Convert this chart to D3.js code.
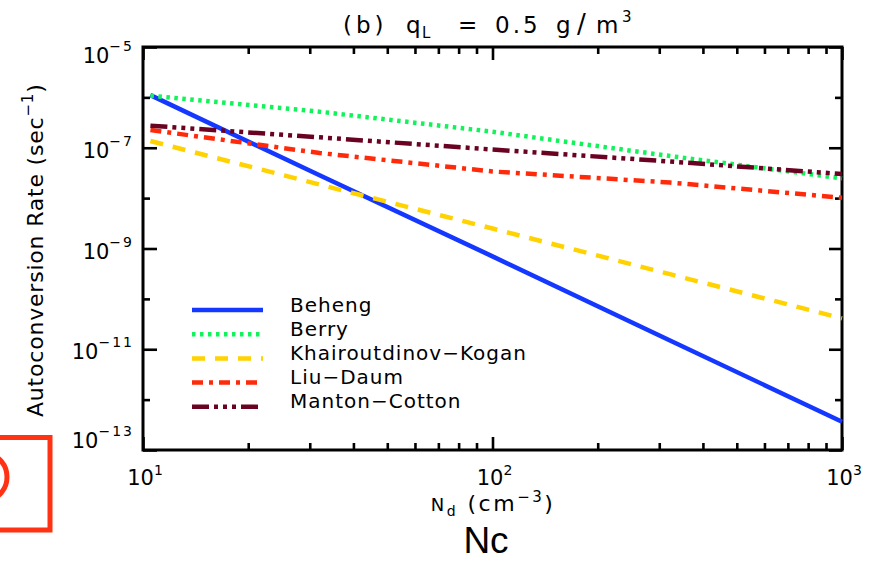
<!DOCTYPE html>
<html><head><meta charset="utf-8">
<script src="https://cdn.jsdelivr.net/npm/d3@7"></script>
<style>body{margin:0;background:#fff} svg{display:block}</style>
</head><body>
<script>
// ---- data ----
const nd = [10.5, 32, 100, 322, 1000];
const beheng = [1.11e-6, 2.84e-8, 6.97e-10, 1.49e-11, 3.65e-13];
const berry = [1.08e-6, 5.20e-7, 2.08e-7, 6.85e-8, 2.47e-8];
const khairoutdinovKogan = [1.36e-7, 1.86e-8, 2.49e-9, 3.09e-10, 4.11e-11];
const liuDaum = [2.25e-7, 7.87e-8, 3.38e-8, 2.04e-8, 1.02e-8];
const mantonCotton = [2.74e-7, 1.61e-7, 9.23e-8, 5.33e-8, 3.01e-8];
const seriesNames = ["Beheng", "Berry", "Khairoutdinov\u2212Kogan", "Liu\u2212Daum", "Manton\u2212Cotton"];
const seriesValues = [beheng, berry, khairoutdinovKogan, liuDaum, mantonCotton];
const xMajorTicks = [10, 100, 1000];
const xTickExponents = ["1", "2", "3"];
const yMajorTicks = [1e-5, 1e-7, 1e-9, 1e-11, 1e-13];
const yTickExponents = ["\u22125", "\u22127", "\u22129", "\u221211", "\u221213"];
const yMinorTicks = [1e-6, 1e-8, 1e-10, 1e-12];

// ---- styles ----
const colors = ["#1438ff", "#12f25a", "#ffd200", "#ff2a0a", "#6a0322"];
const dashes = ["none", "3.5,4.5", "13,10", "11,6,4,6", "17,5,4,5,4,5,4,5"];
const FONT = "'DejaVu Sans', sans-serif";

const W = 880, H = 561;
const L = 143, R = 842, T = 47, B = 450;

const svg = d3.select("body").append("svg").attr("width", W).attr("height", H)
  .style("font-family", FONT);

const x = d3.scaleLog().domain([10, 1000]).range([L, R]);
const y = d3.scaleLog().domain([1e-13, 1e-5]).range([B, T]);

const xMinor = d3.range(2, 10).map(d => d * 10).concat(d3.range(2, 10).map(d => d * 100));

function styleAxis(g) {
  g.select(".domain").remove();
  g.selectAll(".tick line").attr("stroke", "#000").attr("stroke-width", 2.6);
  g.selectAll(".tick text").remove();
}
// x ticks bottom/top
svg.append("g").attr("transform", `translate(0,${B})`)
  .call(d3.axisBottom(x).tickValues(xMajorTicks).tickSize(-13).tickFormat("")).call(styleAxis);
svg.append("g").attr("transform", `translate(0,${B})`)
  .call(d3.axisBottom(x).tickValues(xMinor).tickSize(-7).tickFormat("")).call(styleAxis);
svg.append("g").attr("transform", `translate(0,${T})`)
  .call(d3.axisTop(x).tickValues(xMajorTicks).tickSize(-13).tickFormat("")).call(styleAxis);
svg.append("g").attr("transform", `translate(0,${T})`)
  .call(d3.axisTop(x).tickValues(xMinor).tickSize(-7).tickFormat("")).call(styleAxis);
// y ticks left/right
svg.append("g").attr("transform", `translate(${L},0)`)
  .call(d3.axisLeft(y).tickValues(yMajorTicks).tickSize(-14).tickFormat("")).call(styleAxis);
svg.append("g").attr("transform", `translate(${L},0)`)
  .call(d3.axisLeft(y).tickValues(yMinorTicks).tickSize(-7).tickFormat("")).call(styleAxis);
svg.append("g").attr("transform", `translate(${R},0)`)
  .call(d3.axisRight(y).tickValues(yMajorTicks).tickSize(-13).tickFormat("")).call(styleAxis);
svg.append("g").attr("transform", `translate(${R},0)`)
  .call(d3.axisRight(y).tickValues(yMinorTicks).tickSize(-7).tickFormat("")).call(styleAxis);

// frame
svg.append("rect").attr("x", L).attr("y", T).attr("width", R - L).attr("height", B - T)
  .attr("fill", "none").attr("stroke", "#000").attr("stroke-width", 3);

// x tick labels
xMajorTicks.forEach((v, i) => {
  const t = svg.append("text").attr("x", x(v) + 2).attr("y", 485)
    .attr("text-anchor", "middle").attr("font-size", 21).attr("fill", "#000");
  t.append("tspan").text("10");
  t.append("tspan").attr("dy", -10).attr("font-size", 14).text(xTickExponents[i]);
});
// y tick labels
yMajorTicks.forEach((v, i) => {
  let off = 10;
  if (i === 0) off = 16;
  if (i === yMajorTicks.length - 1) off = -2;
  const t = svg.append("text").attr("x", 134).attr("y", y(v) + off)
    .attr("text-anchor", "end").attr("font-size", 21).attr("fill", "#000");
  t.append("tspan").text("10");
  t.append("tspan").attr("dy", -12).attr("font-size", 14).attr("letter-spacing", 2).text(yTickExponents[i]);
});

// lines
const line = d3.line().x((d, i) => x(nd[i])).y(d => y(d));
seriesValues.forEach((vals, k) => {
  svg.append("path").datum(vals).attr("d", line)
    .attr("fill", "none").attr("stroke", colors[k]).attr("stroke-width", 4.5)
    .attr("stroke-dasharray", dashes[k]).attr("stroke-linecap", "butt");
});

// legend
const legY0 = 310, legDY = 24.2;
seriesNames.forEach((name, k) => {
  const ly = legY0 + k * legDY;
  svg.append("line").attr("x1", 192).attr("x2", 263).attr("y1", ly).attr("y2", ly)
    .attr("stroke", colors[k]).attr("stroke-width", 4.5).attr("stroke-dasharray", dashes[k]);
  svg.append("text").attr("x", 290).attr("y", ly + 1.5).attr("font-size", 20)
    .attr("letter-spacing", 1).attr("fill", "#000").text(name);
});

// title
const title = svg.append("text").attr("y", 33).attr("font-size", 23).attr("fill", "#000");
title.append("tspan").attr("x", 343).attr("letter-spacing", 4).text("(b)");
title.append("tspan").attr("x", 406).text("q");
title.append("tspan").attr("x", 422).attr("dy", 5).attr("font-size", 15).text("L");
title.append("tspan").attr("x", 458).attr("dy", -5).text("=");
title.append("tspan").attr("x", 495).attr("letter-spacing", 3).text("0.5");
title.append("tspan").attr("x", 556).text("g");
title.append("tspan").attr("x", 577).attr("font-size", 26).text("/");
title.append("tspan").attr("x", 596).text("m");
title.append("tspan").attr("x", 622).attr("dy", -11).attr("font-size", 15).text("3");

// y label
const yl = svg.append("text").attr("transform", "translate(43,417) rotate(-90)")
  .attr("font-size", 22).attr("fill", "#000").attr("letter-spacing", 0.8);
yl.append("tspan").text("Autoconversion Rate (sec");
yl.append("tspan").attr("dy", -10).attr("font-size", 15).text("\u22121");
yl.append("tspan").attr("dy", 10).text(")");

// x label
const xl = svg.append("text").attr("x", 493).attr("y", 511).attr("text-anchor", "middle")
  .attr("font-size", 22).attr("letter-spacing", 2.5).attr("fill", "#000");
xl.append("tspan").attr("font-size", 18).text("N");
xl.append("tspan").attr("dy", 5).attr("font-size", 14).text("d");
xl.append("tspan").attr("dy", -5).text(" (cm");
xl.append("tspan").attr("dy", -9).attr("font-size", 15).text("\u22123");
xl.append("tspan").attr("dy", 9).text(")");

// big annotation
svg.append("text").attr("x", 486).attr("y", 553).attr("text-anchor", "middle")
  .attr("font-family", "'Liberation Sans', Arial, sans-serif").attr("font-size", 37)
  .attr("fill", "#000").text("Nc");

// red box and arc (overlay annotation)
svg.append("rect").attr("x", -20).attr("y", 437.5).attr("width", 70).attr("height", 92.5)
  .attr("fill", "none").attr("stroke", "#ff3214").attr("stroke-width", 5);
svg.append("ellipse").attr("cx", -12).attr("cy", 477).attr("rx", 19).attr("ry", 22)
  .attr("fill", "none").attr("stroke", "#ff3214").attr("stroke-width", 5);
</script>
</body></html>
